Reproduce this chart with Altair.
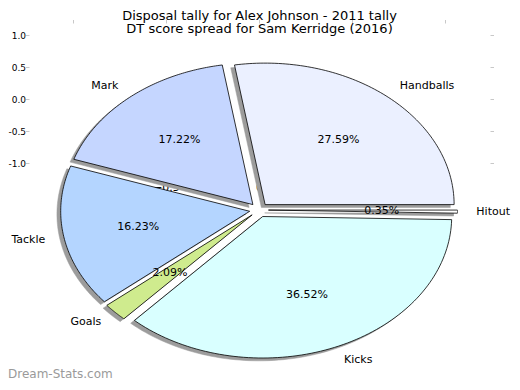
import altair as alt
import pandas as pd

# ---- data ----
labels = ["Handballs", "Mark", "Tackle", "Goals", "Kicks", "Hitout"]
values = [27.59, 17.22, 16.23, 2.09, 36.52, 0.35]
colors = ["#ebf0ff", "#c5d6ff", "#b4d5ff", "#cfeb8e", "#d9ffff", "#ffffff"]
x_ticks = [-1.0, -0.5, 0.0, 0.5, 1.0]
y_ticks = [1.0, 0.5, 0.0, -0.5, -1.0]
title_lines = ["Disposal tally for Alex Johnson - 2011 tally",
               "DT score spread for Sam Kerridge (2016)"]
watermark = ["Dream-Stats.com"]

EXPLODE = 0.05
N = 90
FONT = "DejaVu Sans"

slices = pd.DataFrame({"label": labels, "value": values,
                       "color": colors, "k": list(range(len(labels)))})

W, H = 461, 152
PAD = {"left": 21, "top": 15, "right": 22, "bottom": 207}

def pie_x():
    return alt.Scale(domain=[-1, 1], range=[41, 419], nice=False, zero=False)

def pie_y():
    return alt.Scale(domain=[-1, 1], range=[328.5, 45.5], nice=False, zero=False)

base = (alt.Chart(slices)
        .transform_window(cum="sum(value)", sort=[alt.SortField("k")], frame=[None, 0])
        .transform_joinaggregate(total="sum(value)")
        .transform_calculate(a0="2*PI*(datum.cum - datum.value)/datum.total")
        .transform_calculate(a1="2*PI*datum.cum/datum.total")
        .transform_calculate(mid="(datum.a0 + datum.a1)/2")
        .transform_calculate(ex=f"{EXPLODE}*cos(datum.mid)")
        .transform_calculate(ey=f"{EXPLODE}*sin(datum.mid)"))

poly = (base
        .transform_calculate(idx=f"sequence(0, {N + 2})")
        .transform_flatten(["idx"])
        .transform_calculate(t=f"datum.a0 + (datum.idx - 1)/{N - 1}*(datum.a1 - datum.a0)")
        .transform_calculate(edge=f"datum.idx >= 1 && datum.idx <= {N}")
        .transform_calculate(px="datum.ex + (datum.edge ? cos(datum.t) : 0)")
        .transform_calculate(py="datum.ey + (datum.edge ? sin(datum.t) : 0)"))

shadow = (poly
          .transform_calculate(sx="datum.px - 0.02")
          .transform_calculate(sy="datum.py - 0.02")
          .mark_line(fill="#9c9c9c", stroke="#9c9c9c", strokeWidth=0.5)
          .encode(x=alt.X("sx:Q", scale=pie_x(), axis=None),
                  y=alt.Y("sy:Q", scale=pie_y(), axis=None),
                  detail="label:N", order=alt.Order("idx:Q")))

wedges = (poly
          .mark_line(stroke="black", strokeWidth=0.8, strokeJoin="miter")
          .encode(x=alt.X("px:Q", scale=pie_x(), axis=None),
                  y=alt.Y("py:Q", scale=pie_y(), axis=None),
                  fill=alt.Fill("color:N", scale=None, legend=None),
                  detail="label:N", order=alt.Order("idx:Q")))

lab = (base
       .transform_calculate(lx="datum.ex + 1.1*cos(datum.mid)")
       .transform_calculate(ly="datum.ey + 1.1*sin(datum.mid)"))

def label_layer(cond, align):
    return (lab.transform_filter(cond)
            .mark_text(align=align, baseline="middle", fontSize=11, font=FONT, color="black")
            .encode(x=alt.X("lx:Q", scale=pie_x(), axis=None),
                    y=alt.Y("ly:Q", scale=pie_y(), axis=None),
                    text="label:N"))

lab_right = label_layer("cos(datum.mid) >= 0", "left")
lab_left = label_layer("cos(datum.mid) < 0", "right")

pct = (base
       .transform_calculate(tx="datum.ex + 0.6*cos(datum.mid)")
       .transform_calculate(ty="datum.ey + 0.6*sin(datum.mid)")
       .transform_calculate(pct="format(datum.value/datum.total*100, '.2f') + '%'")
       .mark_text(align="center", baseline="middle", fontSize=11, font=FONT, color="black")
       .encode(x=alt.X("tx:Q", scale=pie_x(), axis=None),
               y=alt.Y("ty:Q", scale=pie_y(), axis=None),
               text="pct:N"))

# ---- the stray matplotlib axes ----
axis_df = pd.DataFrame({"ax": [x_ticks[0], x_ticks[-1]], "ay": [y_ticks[-1], y_ticks[0]]})
TICK = "#c8c8c8"

def ax_x():
    return alt.Scale(domain=[-1.2366, 1.2419], nice=False, zero=False)

def ax_y():
    return alt.Scale(domain=[-1.1875, 1.1875], nice=False, zero=False)

common = dict(title=None, domain=False, grid=False, tickColor=TICK, tickSize=3.5,
              labelFont=FONT, labelColor="black")

axesA = (alt.Chart(axis_df).mark_point(opacity=0)
         .encode(x=alt.X("ax:Q", scale=ax_x(),
                         axis=alt.Axis(orient="bottom", values=x_ticks, labelPadding=3,
                                       labelFontSize=11,
                                       labelExpr="replace(format(datum.value, '~g'), '-', '\u2212')",
                                       **common)),
                 y=alt.Y("ay:Q", scale=ax_y(),
                         axis=alt.Axis(orient="left", values=y_ticks, labelPadding=0,
                                       labelFontSize=9,
                                       labelExpr="replace(format(datum.value, '.1f'), '\u2212', '-')",
                                       **common))))

axesB = (alt.Chart(axis_df).mark_point(opacity=0)
         .encode(x=alt.X("ax:Q", scale=ax_x(),
                         axis=alt.Axis(orient="top", values=x_ticks, labels=False, **common)),
                 y=alt.Y("ay:Q", scale=ax_y(),
                         axis=alt.Axis(orient="right", values=y_ticks, labels=False, **common))))

wm = (alt.Chart(pd.DataFrame({"t": watermark}))
      .mark_text(align="left", baseline="middle", fontSize=12, font=FONT, color="#9a9a9a")
      .encode(x=alt.value(-21), y=alt.value(351), text="t:N"))

chart = (alt.layer(axesA, axesB, shadow, wedges, lab_left, lab_right, pct, wm)
         .resolve_scale(x="independent", y="independent")
         .resolve_axis(x="independent", y="independent")
         .properties(width=W, height=H, padding=PAD,
                     autosize=alt.AutoSizeParams(type="none"),
                     background="white",
                     title=alt.TitleParams(text=title_lines, fontSize=13, font=FONT,
                                           fontWeight="normal", color="black",
                                           anchor="middle", offset=-17, lineHeight=13.5))
         .configure_view(strokeWidth=0))

chart.save("out.html", embed_options={"renderer": "svg", "actions": False})
